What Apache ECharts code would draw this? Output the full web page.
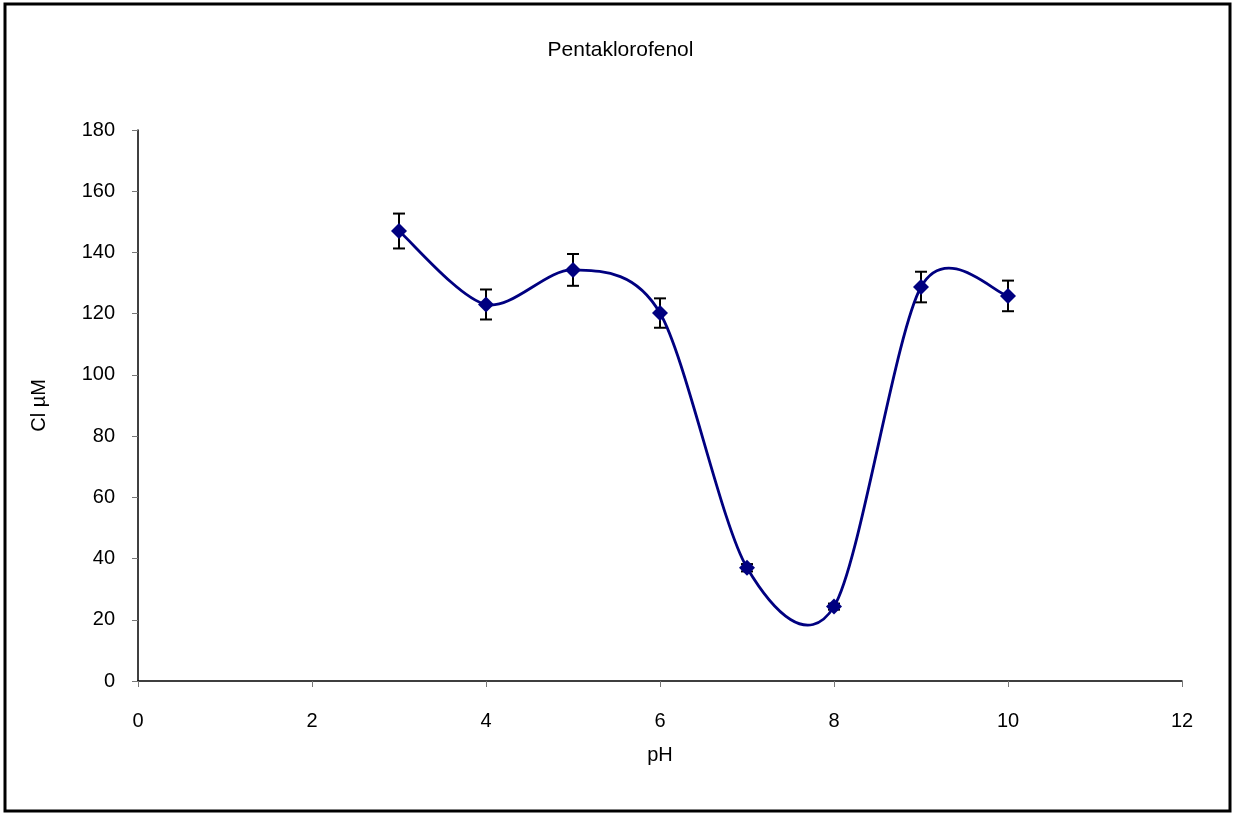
<!DOCTYPE html>
<html>
<head>
<meta charset="utf-8">
<script src="https://cdn.jsdelivr.net/npm/echarts@6/dist/echarts.min.js"></script>
<style>
html,body{margin:0;padding:0;background:#fff;}
#chart{width:1241px;height:815px;}
</style>
</head>
<body>
<div id="chart"></div>
<script>
// Data
const phValues = [3, 4, 5, 6, 7, 8, 9, 10];
const clValues = [147.0, 123.0, 134.3, 120.2, 37.0, 24.3, 128.7, 125.8];
const errValues = [5.7, 4.9, 5.2, 4.8, 1.2, 1.0, 5.0, 5.0];
const xTicks = [0, 2, 4, 6, 8, 10, 12];
const yTicks = [0, 20, 40, 60, 80, 100, 120, 140, 160, 180];

const FONT = '"Liberation Sans", Arial, sans-serif';
const lineData = phValues.map((x, i) => [x, clValues[i]]);
const errData = phValues.map((x, i) => [x, clValues[i] - errValues[i], clValues[i] + errValues[i]]);
const TENSION = 0.15; // Excel-like smoothed line (Catmull-Rom style bezier)

const chart = echarts.init(document.getElementById('chart'), null, {renderer: 'canvas'});
chart.setOption({
  animation: false,
  backgroundColor: '#fff',
  title: {
    text: 'Pentaklorofenol',
    left: 'center',
    top: 35,
    textStyle: {fontFamily: FONT, fontSize: 21, fontWeight: 'normal', color: '#000'}
  },
  graphic: [{
    type: 'rect',
    shape: {x: 5, y: 4, width: 1225, height: 807},
    style: {fill: 'none', stroke: '#000', lineWidth: 3},
    silent: true
  }],
  grid: {left: 138, right: 59, top: 130, bottom: 134, containLabel: false},
  xAxis: {
    type: 'value',
    min: xTicks[0],
    max: xTicks[xTicks.length - 1],
    interval: xTicks[1] - xTicks[0],
    name: 'pH',
    nameLocation: 'middle',
    nameGap: 64,
    nameTextStyle: {fontFamily: FONT, fontSize: 20, color: '#000'},
    axisLine: {lineStyle: {color: '#000', width: 1.5}},
    axisTick: {show: true, inside: false, length: 6, lineStyle: {color: '#777'}},
    axisLabel: {fontFamily: FONT, fontSize: 20, color: '#000', margin: 30},
    splitLine: {show: false}
  },
  yAxis: {
    type: 'value',
    min: yTicks[0],
    max: yTicks[yTicks.length - 1],
    interval: yTicks[1] - yTicks[0],
    name: 'Cl µM',
    nameLocation: 'middle',
    nameGap: 89,
    nameRotate: 90,
    nameTextStyle: {fontFamily: FONT, fontSize: 20, color: '#000'},
    axisLine: {show: true, lineStyle: {color: '#000', width: 1.5}},
    axisTick: {show: true, inside: false, length: 6, lineStyle: {color: '#777'}},
    axisLabel: {fontFamily: FONT, fontSize: 20, color: '#000', margin: 23},
    splitLine: {show: false}
  },
  series: [
    {
      type: 'custom',
      z: 2,
      data: errData,
      renderItem: function (params, api) {
        const x = api.value(0);
        const lo = api.coord([x, api.value(1)]);
        const hi = api.coord([x, api.value(2)]);
        const hw = 6;
        const st = {stroke: '#000', lineWidth: 2};
        return {
          type: 'group',
          children: [
            {type: 'line', shape: {x1: lo[0], y1: lo[1], x2: hi[0], y2: hi[1]}, style: st},
            {type: 'line', shape: {x1: lo[0] - hw, y1: lo[1], x2: lo[0] + hw, y2: lo[1]}, style: st},
            {type: 'line', shape: {x1: hi[0] - hw, y1: hi[1], x2: hi[0] + hw, y2: hi[1]}, style: st}
          ]
        };
      }
    },
    {
      type: 'custom',
      z: 3,
      data: lineData,
      renderItem: function (params, api) {
        const i = params.dataIndexInside;
        const n = params.dataInsideLength;
        if (i >= n - 1) return null;
        const pt = function (j) {
          j = Math.max(0, Math.min(n - 1, j));
          return api.coord([api.value(0, j), api.value(1, j)]);
        };
        const p0 = pt(i - 1), p1 = pt(i), p2 = pt(i + 1), p3 = pt(i + 2);
        return {
          type: 'bezierCurve',
          shape: {
            x1: p1[0], y1: p1[1], x2: p2[0], y2: p2[1],
            cpx1: p1[0] + (p2[0] - p0[0]) * TENSION,
            cpy1: p1[1] + (p2[1] - p0[1]) * TENSION,
            cpx2: p2[0] - (p3[0] - p1[0]) * TENSION,
            cpy2: p2[1] - (p3[1] - p1[1]) * TENSION
          },
          style: {stroke: '#000080', lineWidth: 2.8, fill: null}
        };
      }
    },
    {
      type: 'scatter',
      z: 4,
      data: lineData,
      symbol: 'diamond',
      symbolSize: 16,
      itemStyle: {color: '#000080', opacity: 1}
    }
  ]
});
</script>
</body>
</html>
